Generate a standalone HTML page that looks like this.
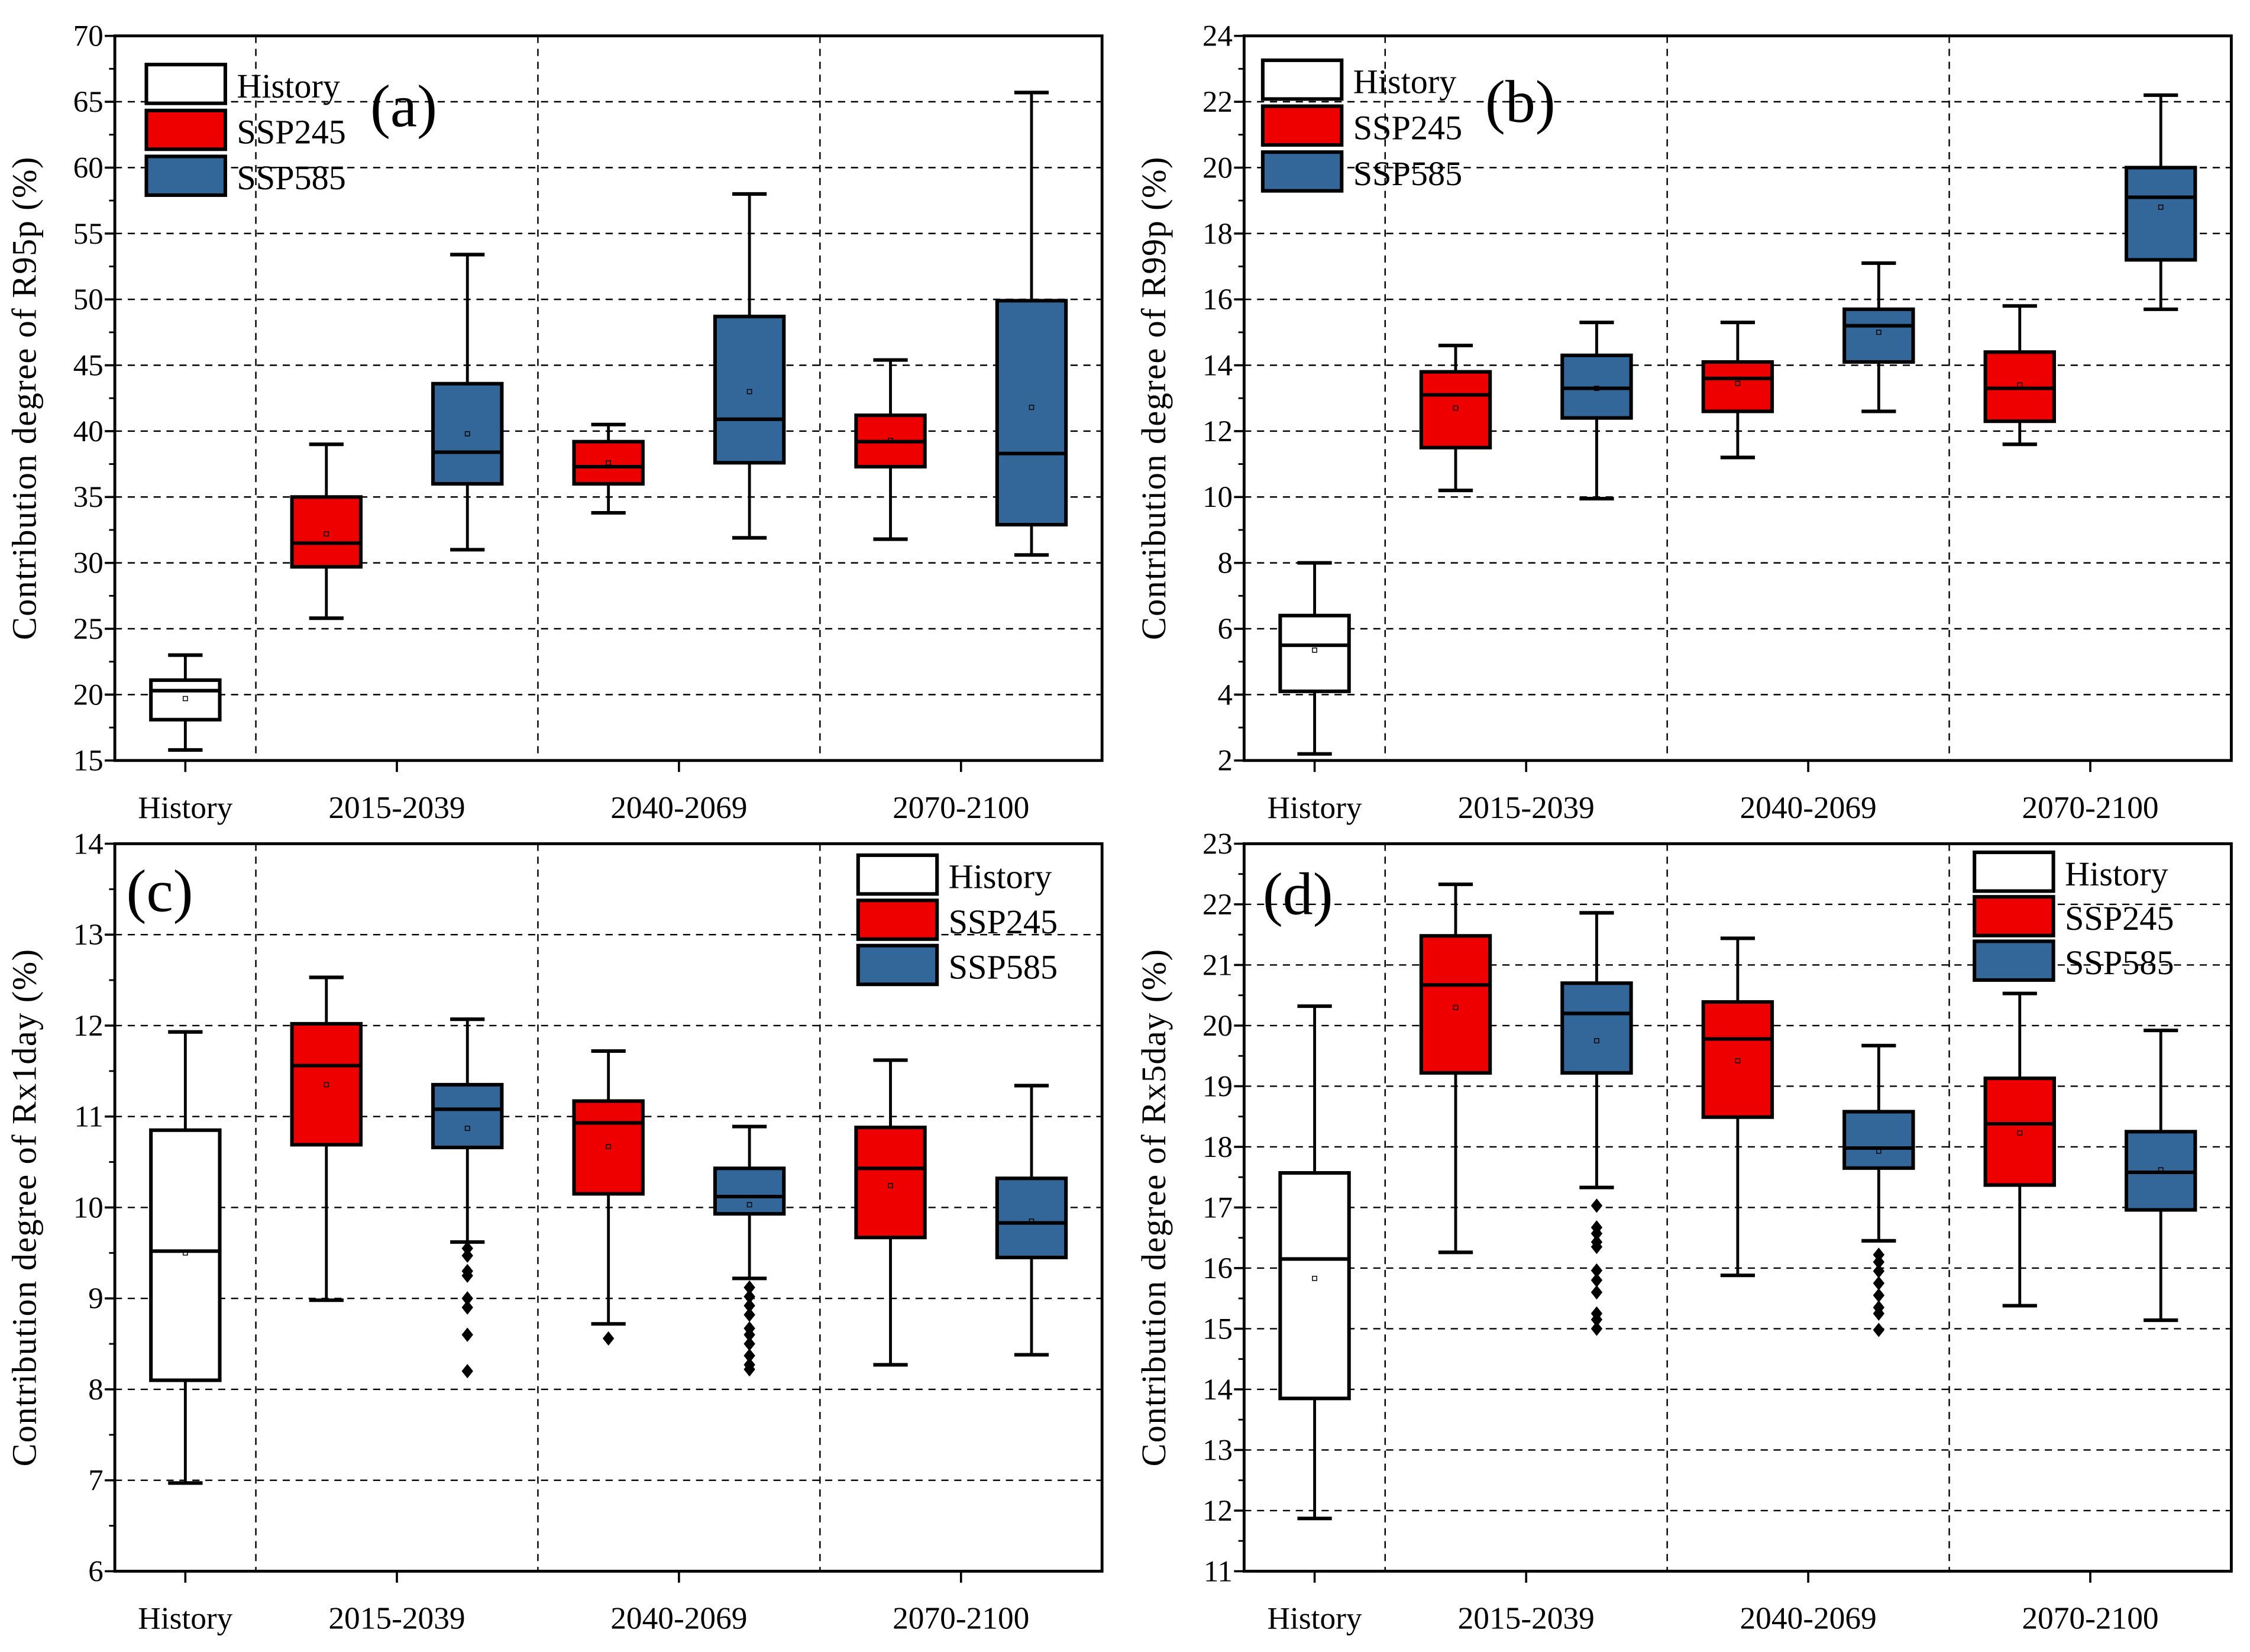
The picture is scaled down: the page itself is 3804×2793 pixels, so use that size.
<!DOCTYPE html>
<html><head><meta charset="utf-8">
<style>
html,body{margin:0;padding:0;background:#fff;}
svg{display:block;}
text{font-family:"Liberation Serif",serif;fill:#000;}
</style></head>
<body>
<svg id="fig" xmlns="http://www.w3.org/2000/svg" width="3804" height="2793" viewBox="0 0 1568 1151.3"></svg>
<script>
// ---- data ----
const categories = ["History","2015-2039","2040-2069","2070-2100"];
const seriesNames = ["History","SSP245","SSP585"];
// each box: [min, q1, median, q3, max, mean]
const aHistory = [[15.8,18.1,20.3,21.1,23.0,19.7]];
const aSSP245 = [[25.8,29.7,31.5,35.0,39.0,32.2],[33.8,36.0,37.3,39.2,40.5,37.6],[31.8,37.3,39.2,41.2,45.4,39.3]];
const aSSP585 = [[31.0,36.0,38.4,43.6,53.4,39.8],[31.9,37.6,40.9,48.7,58.0,43.0],[30.6,32.9,38.3,49.9,65.7,41.8]];
const bHistory = [[2.2,4.1,5.5,6.4,8.0,5.35]];
const bSSP245 = [[10.2,11.5,13.1,13.8,14.6,12.7],[11.2,12.6,13.6,14.1,15.3,13.45],[11.6,12.3,13.3,14.4,15.8,13.4]];
const bSSP585 = [[9.95,12.4,13.3,14.3,15.3,13.3],[12.6,14.1,15.2,15.7,17.1,15.0],[15.7,17.2,19.1,20.0,22.2,18.8]];
const cHistory = [[6.97,8.1,9.52,10.85,11.93,9.5]];
const cSSP245 = [[8.98,10.69,11.56,12.02,12.53,11.35],[8.72,10.15,10.93,11.17,11.72,10.67],[8.27,9.67,10.43,10.88,11.62,10.24]];
const cSSP585 = [[9.62,10.66,11.08,11.35,12.07,10.87],[9.22,9.93,10.12,10.43,10.89,10.03],[8.38,9.45,9.83,10.32,11.34,9.85]];
const cOut245 = [[],[8.56],[]];
const cOut585 = [[9.55,9.47,9.3,9.25,9.0,8.9,8.6,8.2],[9.12,9.02,8.92,8.82,8.67,8.6,8.5,8.37,8.27,8.22],[]];
const dHistory = [[11.87,13.85,16.15,17.57,20.32,15.83]];
const dSSP245 = [[16.26,19.22,20.67,21.48,22.33,20.3],[15.88,18.49,19.78,20.39,21.44,19.42],[15.38,17.37,18.38,19.13,20.53,18.23]];
const dSSP585 = [[17.33,19.22,20.2,20.7,21.86,19.75],[16.45,17.65,17.98,18.58,19.67,17.93],[15.14,16.96,17.58,18.25,19.92,17.62]];
const dOut245 = [[],[],[]];
const dOut585 = [[17.03,16.67,16.57,16.43,16.35,15.96,15.8,15.6,15.25,15.15,15.0],[16.22,16.1,15.95,15.75,15.55,15.35,15.25,14.98],[]];
const aTicks = [15,20,25,30,35,40,45,50,55,60,65,70];
const bTicks = [2,4,6,8,10,12,14,16,18,20,22,24];
const cTicks = [6,7,8,9,10,11,12,13,14];
const dTicks = [11,12,13,14,15,16,17,18,19,20,21,22,23];

const NS="http://www.w3.org/2000/svg";
const svg=document.getElementById('fig');
function el(tag,attrs,parent,txt){const e=document.createElementNS(NS,tag);for(const k in attrs)e.setAttribute(k,attrs[k]);if(txt!==undefined)e.textContent=txt;(parent||svg).appendChild(e);return e;}

const COLORS={History:"#ffffff",SSP245:"#ee0000",SSP585:"#336699"};

function panel(cfg){
  const g=el('g',{});
  
  
  const L=cfg.x0,R=cfg.x1,T=cfg.y0,B=cfg.y1;
  const ymin=cfg.ticks[0],ymax=cfg.ticks[cfg.ticks.length-1];
  const yS=v=>B-(v-ymin)/(ymax-ymin)*(B-T);
  const catW=(R-L)/3.5;
  const xCat=i=> i===0 ? L+catW*0.25 : L+catW*i;
  cfg.ticks.forEach((t,i)=>{
    if(i>0&&i<cfg.ticks.length-1){const l=el('line',{x1:L,x2:R,y1:yS(t),y2:yS(t),stroke:'#000','stroke-width':1,'stroke-dasharray':'5,4'},g);
      }
  });
  for(let i=0;i<3;i++){const xx=L+catW*(0.5+i);
    const l=el('line',{x1:xx,x2:xx,y1:T,y2:B,stroke:'#000','stroke-width':1,'stroke-dasharray':'5,4'},g);
    }
  const step=cfg.ticks[1]-cfg.ticks[0];
  cfg.ticks.forEach((t,i)=>{
    el('line',{x1:L-7,x2:L,y1:yS(t),y2:yS(t),stroke:'#000','stroke-width':1.5},g);
    const tx=el('text',{x:L-8,y:yS(t)+7,'text-anchor':'end','font-size':21},g,String(t));
    
    if(i<cfg.ticks.length-1){const m=t+step/2;el('line',{x1:L-4,x2:L,y1:yS(m),y2:yS(m),stroke:'#000','stroke-width':1.2},g);}
  });
  categories.forEach((c,i)=>{
    const px=xCat(i);
    el('line',{x1:px,x2:px,y1:B,y2:B+8,stroke:'#000','stroke-width':1.5},g);
    const tx=el('text',{x:px,y:B+40,'text-anchor':'middle','font-size':22},g,c);
    
  });
  const yt=el('text',{x:0,y:0,'text-anchor':'middle','font-size':24,'letter-spacing':'0.6',transform:`translate(${L-55},${(T+B)/2}) rotate(-90)`},g,cfg.ytitle);
  
  const bw=catW*0.244;
  function box(d,cx,color,series,outs){
    const bg=el('g',{},g);
    
    
    el('line',{x1:cx,x2:cx,y1:yS(d[0]),y2:yS(d[4]),stroke:'#000','stroke-width':2},bg);
    el('line',{x1:cx-12,x2:cx+12,y1:yS(d[0]),y2:yS(d[0]),stroke:'#000','stroke-width':2.5},bg);
    el('line',{x1:cx-12,x2:cx+12,y1:yS(d[4]),y2:yS(d[4]),stroke:'#000','stroke-width':2.5},bg);
    el('rect',{x:cx-bw/2,y:yS(d[3]),width:bw,height:yS(d[1])-yS(d[3]),fill:color,stroke:'#000','stroke-width':2.5},bg);
    el('line',{x1:cx-bw/2,x2:cx+bw/2,y1:yS(d[2]),y2:yS(d[2]),stroke:'#000','stroke-width':2.5},bg);
    el('rect',{x:cx-1.5,y:yS(d[5])-1.5,width:3,height:3,fill:'none',stroke:'#000','stroke-width':0.6},bg);
    (outs||[]).forEach(o=>{const y=yS(o);const p=el('path',{d:`M${cx} ${y-5}L${cx+4} ${y}L${cx} ${y+5}L${cx-4} ${y}Z`,fill:'#000'},bg);
      });
  }
  box(cfg.hist[0],xCat(0),COLORS.History,'History',[]);
  for(let i=0;i<3;i++){
    box(cfg.s245[i],L+catW*(0.5+i)+catW*0.25,COLORS.SSP245,'SSP245',cfg.o245?cfg.o245[i]:[]);
    box(cfg.s585[i],L+catW*(0.5+i)+catW*0.75,COLORS.SSP585,'SSP585',cfg.o585?cfg.o585[i]:[]);
  }
  el('rect',{x:L,y:T,width:R-L,height:B-T,fill:'none',stroke:'#000','stroke-width':2},g);
  const lg=el('g',{},g);
  
  seriesNames.forEach((s,i)=>{
    const y=cfg.lg[1]+i*cfg.lg[2];
    const it=el('g',{},lg);
    
    el('rect',{x:cfg.lg[0],y:y,width:55,height:27,fill:COLORS[s],stroke:'#000','stroke-width':2.5},it);
    el('text',{x:cfg.lg[0]+63,y:y+23,'font-size':24},it,s);
  });
  const pl=el('text',{x:cfg.lab[0],y:cfg.lab[1],'font-size':42},g,cfg.label);
  
}

panel({name:'panel-a',x0:80,x1:768,y0:25,y1:530,ticks:aTicks,ytitle:'Contribution degree of R95p (%)',hist:aHistory,s245:aSSP245,s585:aSSP585,lg:[102,45,32],lab:[258,88],label:'(a)'});
panel({name:'panel-b',x0:867,x1:1555,y0:25,y1:530,ticks:bTicks,ytitle:'Contribution degree of R99p (%)',hist:bHistory,s245:bSSP245,s585:bSSP585,lg:[880,42,32],lab:[1035,85],label:'(b)'});
panel({name:'panel-c',x0:80,x1:768,y0:588,y1:1095,ticks:cTicks,ytitle:'Contribution degree of Rx1day (%)',hist:cHistory,s245:cSSP245,s585:cSSP585,o245:cOut245,o585:cOut585,lg:[598,596,31.5],lab:[88,635],label:'(c)'});
panel({name:'panel-d',x0:867,x1:1555,y0:588,y1:1095,ticks:dTicks,ytitle:'Contribution degree of Rx5day (%)',hist:dHistory,s245:dSSP245,s585:dSSP585,o245:dOut245,o585:dOut585,lg:[1376,594,31],lab:[880,637],label:'(d)'});
</script>
</body></html>
